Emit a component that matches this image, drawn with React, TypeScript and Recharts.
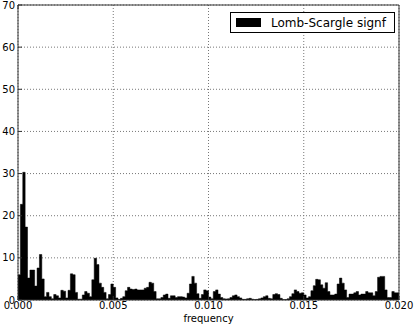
import { AreaChart, Area, XAxis, YAxis, CartesianGrid, Legend } from 'recharts'

// histogram bin width (frequency units), 160 bins over 0..0.02
const BIN_WIDTH = 0.000125

// Lomb-Scargle significance per bin
const SIGNF = [
  6, 22.7, 30.3, 17.3, 5.2, 7.1, 7.1, 3.3, 7.6, 10.8,
  5, 0.8, 1.8, 0.8, 0.3, 1.3, 1.0, 0.5, 2.3, 2.1,
  0.5, 2.3, 6.2, 6.0, 1.8, 0.2, 0.2, 1.2, 2.0, 1.6,
  0.8, 4.8, 9.9, 8.4, 4.0, 3.0, 1.8, 0.3, 1.3, 3.8,
  3.0, 0.5, 0.1, 0.4, 0.8, 2.2, 3.0, 2.6, 2.5, 2.6,
  2.4, 2.4, 2.4, 2.8, 3.0, 4.2, 4.0, 2.0, 0.3, 0.3,
  0.6, 1.2, 1.4, 0.4, 1.0, 1.0, 0.6, 0.8, 0.8, 0.7,
  0.5, 1.6, 3.8, 5.6, 4.0, 1.5, 0.4, 1.3, 2.4, 2.2,
  0.7, 0.3, 2.0, 2.4, 1.4, 0.6, 0.3, 0.25, 0.3, 0.6,
  1.0, 1.2, 0.8, 0.5, 0.15, 0.15, 0.3, 0.4, 0.2, 0.1,
  0.15, 0.3, 0.5, 0.8, 1.0, 0.4, 0.3, 1.3, 1.5, 1.3,
  0.4, 0.1, 0.1, 0.3, 0.8, 1.5, 2.4, 2.0, 1.6, 1.7,
  1.2, 0.5, 0.8, 2.2, 3.4, 4.9, 4.8, 3.6, 2.8, 4.1,
  2.0, 1.2, 1.2, 1.4, 3.8, 5.2, 4.0, 2.4, 0.6, 1.4,
  1.4, 1.7, 2.0, 1.2, 1.4, 1.4, 2.0, 1.7, 1.7, 1.0,
  2.0, 5.4, 5.6, 5.6, 2.4, 0.6, 0.6, 2.0, 1.7, 1.7,
]

const X_TICKS = [0, 0.005, 0.01, 0.015, 0.02]
const Y_TICKS = [0, 10, 20, 30, 40, 50, 60, 70]
const SERIES_NAME = 'Lomb-Scargle signf'

// step-filled histogram: one point per bin start, plus closing edge
const chartData = [
  ...SIGNF.map((v, i) => ({ f: i * BIN_WIDTH, v })),
  { f: X_TICKS[X_TICKS.length - 1], v: SIGNF[SIGNF.length - 1] },
]

const FONT = 'DejaVu Sans, sans-serif'
const FRAME = '#333'

function LegendBox() {
  return (
    <div
      style={{
        border: '1px solid #000',
        background: '#fff',
        width: 165,
        height: 21,
        display: 'flex',
        alignItems: 'center',
        fontFamily: FONT,
        fontSize: 12,
        color: '#000',
        boxSizing: 'border-box',
      }}
    >
      <span style={{ width: 25, height: 9, background: '#000', marginLeft: 5, marginRight: 10, display: 'inline-block' }} />
      <span>{SERIES_NAME}</span>
    </div>
  )
}

export default function App() {
  const tickStyle = { fill: '#000', fontSize: 10, fontFamily: FONT }
  return (
    <div style={{ position: 'absolute', left: 0, top: 0, width: 415, height: 327, background: '#fff' }}>
      <AreaChart width={415} height={327} data={chartData} margin={{ top: 0, right: 0, left: 0, bottom: 0 }}>
        <CartesianGrid stroke="#777" strokeDasharray="1 2" />
        <XAxis
          dataKey="f"
          type="number"
          domain={[0, 0.02]}
          ticks={X_TICKS}
          tickFormatter={(v: number) => v.toFixed(3)}
          tick={tickStyle}
          tickSize={-4}
          tickMargin={6}
          tickLine={{ stroke: FRAME }}
          axisLine={{ stroke: FRAME }}
          height={27}
          label={{ value: 'frequency', position: 'insideBottom', offset: 5, fill: '#000', fontSize: 10, fontFamily: FONT }}
        />
        <XAxis
          xAxisId="top"
          orientation="top"
          type="number"
          domain={[0, 0.02]}
          ticks={X_TICKS}
          tickFormatter={() => ''}
          tickSize={-4}
          tickLine={{ stroke: FRAME }}
          axisLine={{ stroke: FRAME }}
          height={5}
        />
        <YAxis
          type="number"
          domain={[0, 70]}
          ticks={Y_TICKS}
          tick={tickStyle}
          tickSize={-4}
          tickMargin={7}
          tickLine={{ stroke: FRAME }}
          axisLine={{ stroke: FRAME }}
          width={18}
        />
        <YAxis
          yAxisId="right"
          orientation="right"
          type="number"
          domain={[0, 70]}
          ticks={Y_TICKS}
          tickFormatter={() => ''}
          tickSize={-4}
          tickLine={{ stroke: FRAME }}
          axisLine={{ stroke: FRAME }}
          width={16}
        />
        <Legend
          layout="horizontal"
          verticalAlign="middle"
          align="center"
          wrapperStyle={{ position: 'absolute', left: 230, top: 12, width: 'auto' }}
          content={() => <LegendBox />}
        />
        <Area
          dataKey="v"
          name={SERIES_NAME}
          type="stepAfter"
          fill="#000"
          fillOpacity={1}
          stroke="#000"
          strokeWidth={0.5}
          dot={false}
          activeDot={false}
          isAnimationActive={false}
        />
      </AreaChart>
    </div>
  )
}
